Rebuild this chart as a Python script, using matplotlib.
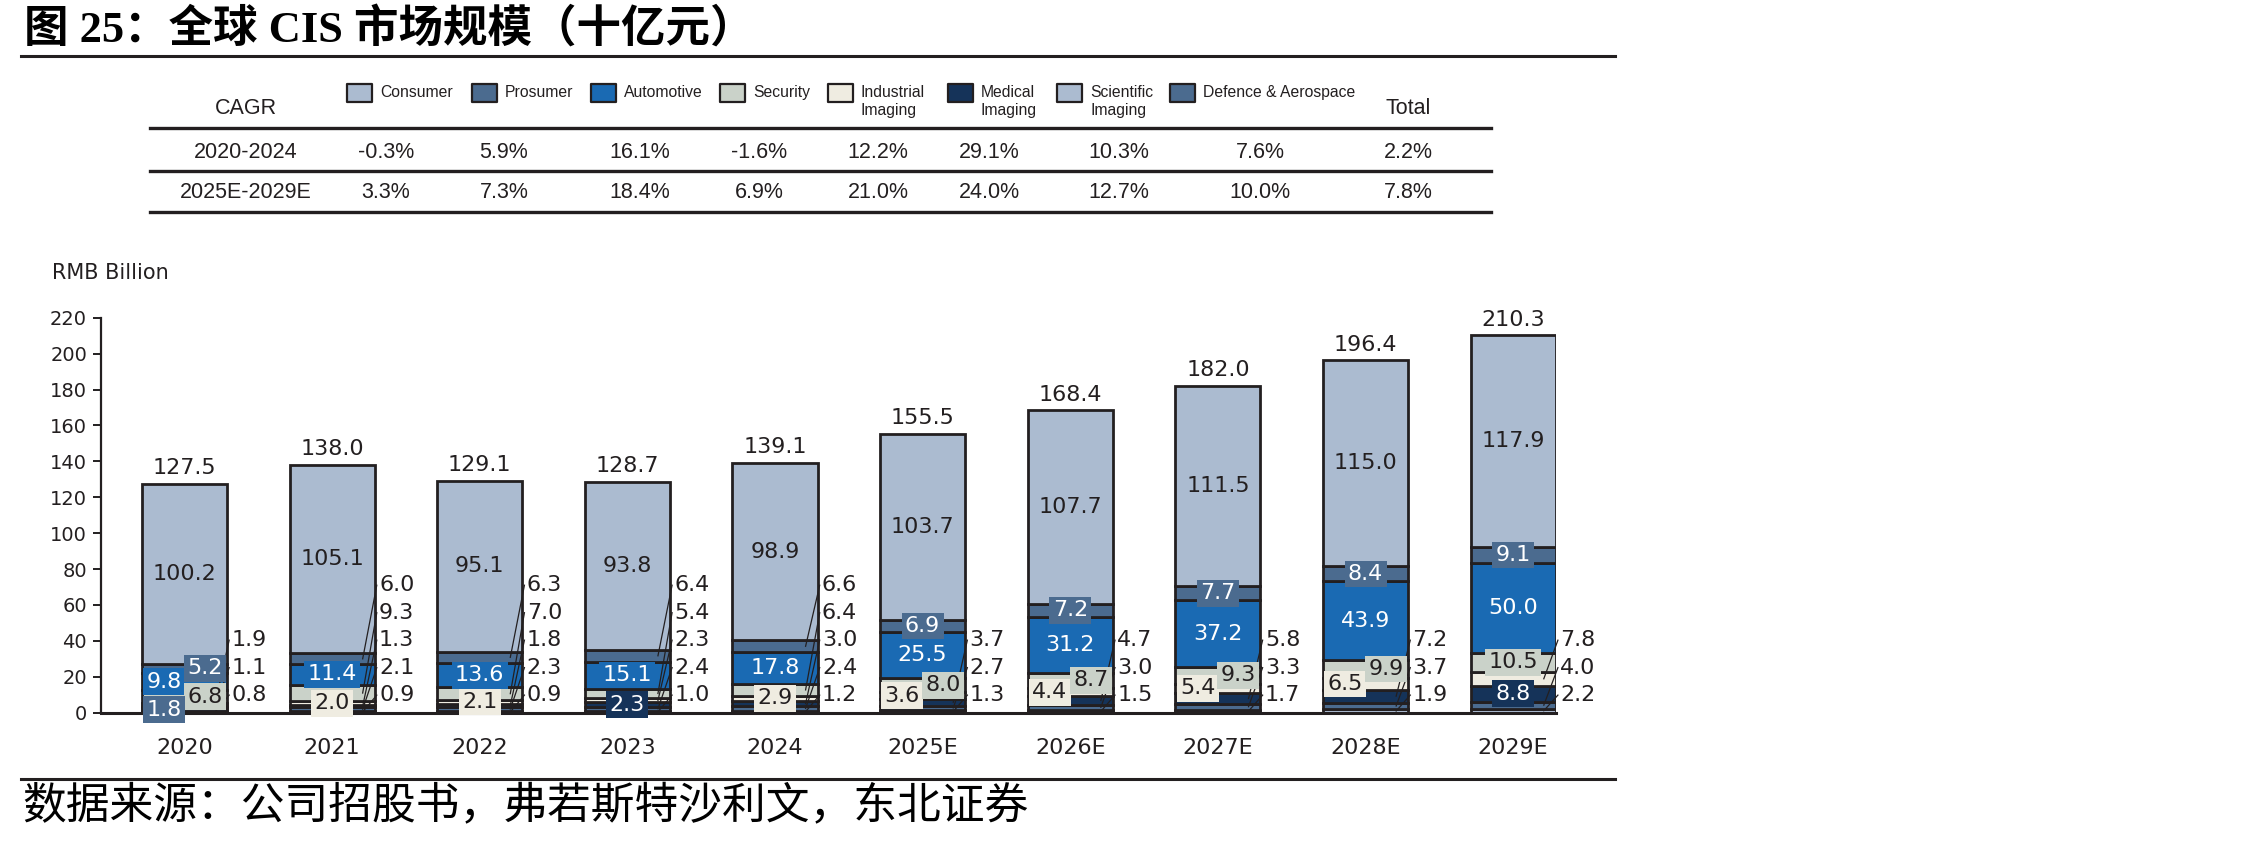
import numpy as np
import matplotlib
matplotlib.use('Agg')
import matplotlib.pyplot as plt
from matplotlib.lines import Line2D
from matplotlib.patches import Rectangle

plt.rcParams['font.family'] = ['Liberation Sans', 'DejaVu Sans']

# data (RMB billion)
years = ['2020', '2021', '2022', '2023', '2024', '2025E', '2026E', '2027E', '2028E', '2029E']
consumer = [100.2, 105.1, 95.1, 93.8, 98.9, 103.7, 107.7, 111.5, 115.0, 117.9]
prosumer = [5.2, 6.0, 6.3, 6.4, 6.6, 6.9, 7.2, 7.7, 8.4, 9.1]
automotive = [9.8, 11.4, 13.6, 15.1, 17.8, 25.5, 31.2, 37.2, 43.9, 50.0]
security = [6.8, 9.3, 7.0, 5.4, 6.4, 8.0, 8.7, 9.3, 9.9, 10.5]
industrial = [1.9, 2.0, 2.1, 2.3, 2.9, 3.6, 4.4, 5.4, 6.5, 7.8]
medical = [1.1, 1.3, 1.8, 2.3, 3.0, 3.7, 4.7, 5.8, 7.2, 8.8]
scientific = [0.8, 0.9, 0.9, 1.0, 1.2, 1.3, 1.5, 1.7, 1.9, 2.2]
defence = [1.8, 2.1, 2.3, 2.4, 2.4, 2.7, 3.0, 3.3, 3.7, 4.0]
totals = [127.5, 138.0, 129.1, 128.7, 139.1, 155.5, 168.4, 182.0, 196.4, 210.3]

legend_names = ['Consumer', 'Prosumer', 'Automotive', 'Security', 'Industrial\nImaging',
                'Medical\nImaging', 'Scientific\nImaging', 'Defence & Aerospace']
keys = ['consumer', 'prosumer', 'automotive', 'security', 'industrial', 'medical', 'scientific', 'defence']
colors = {'consumer': '#abbbd0', 'prosumer': '#4b6b8f', 'automotive': '#1a6ab3', 'security': '#cad2c9',
          'industrial': '#efece1', 'medical': '#153359', 'scientific': '#abbbd0', 'defence': '#4b6b8f'}
dark_fill = ['prosumer', 'automotive', 'medical', 'defence']

cagr_periods = ['2020-2024', '2025E-2029E']
cagr_2020_2024 = ['-0.3%', '5.9%', '16.1%', '-1.6%', '12.2%', '29.1%', '10.3%', '7.6%', '2.2%']
cagr_2025_2029 = ['3.3%', '7.3%', '18.4%', '6.9%', '21.0%', '24.0%', '12.7%', '10.0%', '7.8%']

values = {'consumer': consumer, 'prosumer': prosumer, 'automotive': automotive, 'security': security,
          'industrial': industrial, 'medical': medical, 'scientific': scientific, 'defence': defence}
# bottom -> top
stack_order = ['scientific', 'defence', 'medical', 'industrial', 'security', 'automotive', 'prosumer', 'consumer']

# which labels sit inside the bar (-1 left, 0 centre, 1 right); the rest go to the right
inside = [
    {'consumer': 0, 'automotive': -1, 'prosumer': 1, 'security': 1, 'defence': -1},
    {'consumer': 0, 'automotive': 0, 'industrial': 0},
    {'consumer': 0, 'automotive': 0, 'industrial': 0},
    {'consumer': 0, 'automotive': 0, 'medical': 0},
    {'consumer': 0, 'automotive': 0, 'industrial': 0},
    {'consumer': 0, 'prosumer': 0, 'automotive': 0, 'industrial': -1, 'security': 1},
    {'consumer': 0, 'prosumer': 0, 'automotive': 0, 'industrial': -1, 'security': 1},
    {'consumer': 0, 'prosumer': 0, 'automotive': 0, 'industrial': -1, 'security': 1},
    {'consumer': 0, 'prosumer': 0, 'automotive': 0, 'industrial': -1, 'security': 1},
    {'consumer': 0, 'prosumer': 0, 'automotive': 0, 'security': 0, 'medical': 0},
]

W, H = 2268, 844
txt = '#231f20'
cf = 'DejaVu Sans'   # chart text
fig = plt.figure(figsize=(W / 100, H / 100), dpi=100)

def fx(px):
    return px / W

def fy(py):
    return 1 - py / H

# title + rules
fig.text(fx(24), fy(29), '图 25：全球 CIS 市场规模（十亿元）', fontsize=32, fontweight='bold',
         family=['Liberation Serif', 'Noto Sans CJK SC'], va='center', ha='left', color='black')
fig.add_artist(Line2D([fx(21), fx(1615)], [fy(56), fy(56)], color=txt, lw=2.2))
fig.add_artist(Line2D([fx(21), fx(1615)], [fy(779), fy(779)], color=txt, lw=2.2))
fig.text(fx(22), fy(806), '数据来源：公司招股书，弗若斯特沙利文，东北证券', fontsize=31.5,
         family=['Noto Sans CJK SC', 'DejaVu Sans'], va='center', ha='left', color='black')

# CAGR table
sq_x = [347, 472, 591, 720, 828, 948, 1057, 1170]
col_x = [386, 504, 640, 759, 878, 989, 1119, 1260, 1408]
for i, k in enumerate(keys):
    fig.add_artist(Rectangle((fx(sq_x[i]), fy(102)), fx(25), 18 / H, transform=fig.transFigure,
                             fc=colors[k], ec=txt, lw=1.6, joinstyle='round'))
    fig.text(fx(sq_x[i] + 33), fy(85), legend_names[i], fontsize=11.3, va='top', ha='left',
             color=txt, linespacing=1.25)
fig.text(fx(246), fy(108), 'CAGR', fontsize=15.5, ha='center', va='center', color=txt)
fig.text(fx(1408), fy(108), 'Total', fontsize=15.5, ha='center', va='center', color=txt)
for py in [128, 171, 212]:
    fig.add_artist(Line2D([fx(150), fx(1491)], [fy(py), fy(py)], color=txt, lw=2.4))
for row_y, period, row in zip([152, 193], cagr_periods, [cagr_2020_2024, cagr_2025_2029]):
    fig.text(fx(246), fy(row_y), period, fontsize=15.5, ha='center', va='center', color=txt)
    for cx, v in zip(col_x, row):
        fig.text(fx(cx), fy(row_y), v, fontsize=15.5, ha='center', va='center', color=txt)

# chart
ax = fig.add_axes([fx(101), fy(712.7), fx(1556) - fx(101), (712.7 - 317.7) / H])
x = np.arange(len(years))
bw = 0.576
bottom = np.zeros(len(years))
seg_mid = {}
for k in stack_order:
    v = np.array(values[k])
    ax.bar(x, v, bw, bottom=bottom, color=colors[k], edgecolor=txt, linewidth=2.0, zorder=2)
    seg_mid[k] = bottom + v / 2
    bottom = bottom + v

for i in range(len(years)):
    right = x[i] + bw / 2
    outside = [k for k in stack_order if k not in inside[i]]
    for j, k in enumerate(outside):
        ly = 9.8 + 15.3 * j
        ax.plot([right - 0.14 * bw, right + 0.015], [seg_mid[k][i], ly], color=txt, lw=0.9,
                zorder=3, clip_on=False)
        ax.text(right + 0.03, ly, f'{values[k][i]:.1f}', fontsize=16, family=cf, ha='left',
                va='center', color=txt, zorder=4, clip_on=False)
    for k, side in inside[i].items():
        fc = 'white' if k in dark_fill else txt
        box = None if k == 'consumer' else dict(boxstyle='square,pad=0.15', fc=colors[k], ec='none')
        ax.text(x[i] + side * 0.138, seg_mid[k][i], f'{values[k][i]:.1f}', fontsize=16, family=cf,
                ha='center', va='center', color=fc, bbox=box, zorder=4, clip_on=False)
    ax.annotate(f'{totals[i]:.1f}', (x[i], totals[i]), xytext=(0, 4), textcoords='offset points',
                ha='center', va='bottom', fontsize=16, family=cf, color=txt)

ax.set_xlim(-0.565, 9.29)
ax.set_ylim(0, 220)
ax.set_yticks(range(0, 221, 20))
ax.set_xticks(x)
ax.set_xticklabels(years, family=cf)
for lab in ax.get_yticklabels():
    lab.set_family(cf)
ax.tick_params(axis='x', length=0, pad=18, labelsize=16, colors=txt)
ax.tick_params(axis='y', length=6, width=1.4, pad=4, labelsize=14, colors=txt)
for s in ['top', 'right']:
    ax.spines[s].set_visible(False)
ax.spines['left'].set_linewidth(1.6)
ax.spines['bottom'].set_linewidth(2.2)
ax.spines['left'].set_color(txt)
ax.spines['bottom'].set_color(txt)
fig.text(fx(52), fy(273), 'RMB Billion', fontsize=15, family=cf, ha='left', va='center', color=txt)

fig.savefig('out.png', dpi=100)
